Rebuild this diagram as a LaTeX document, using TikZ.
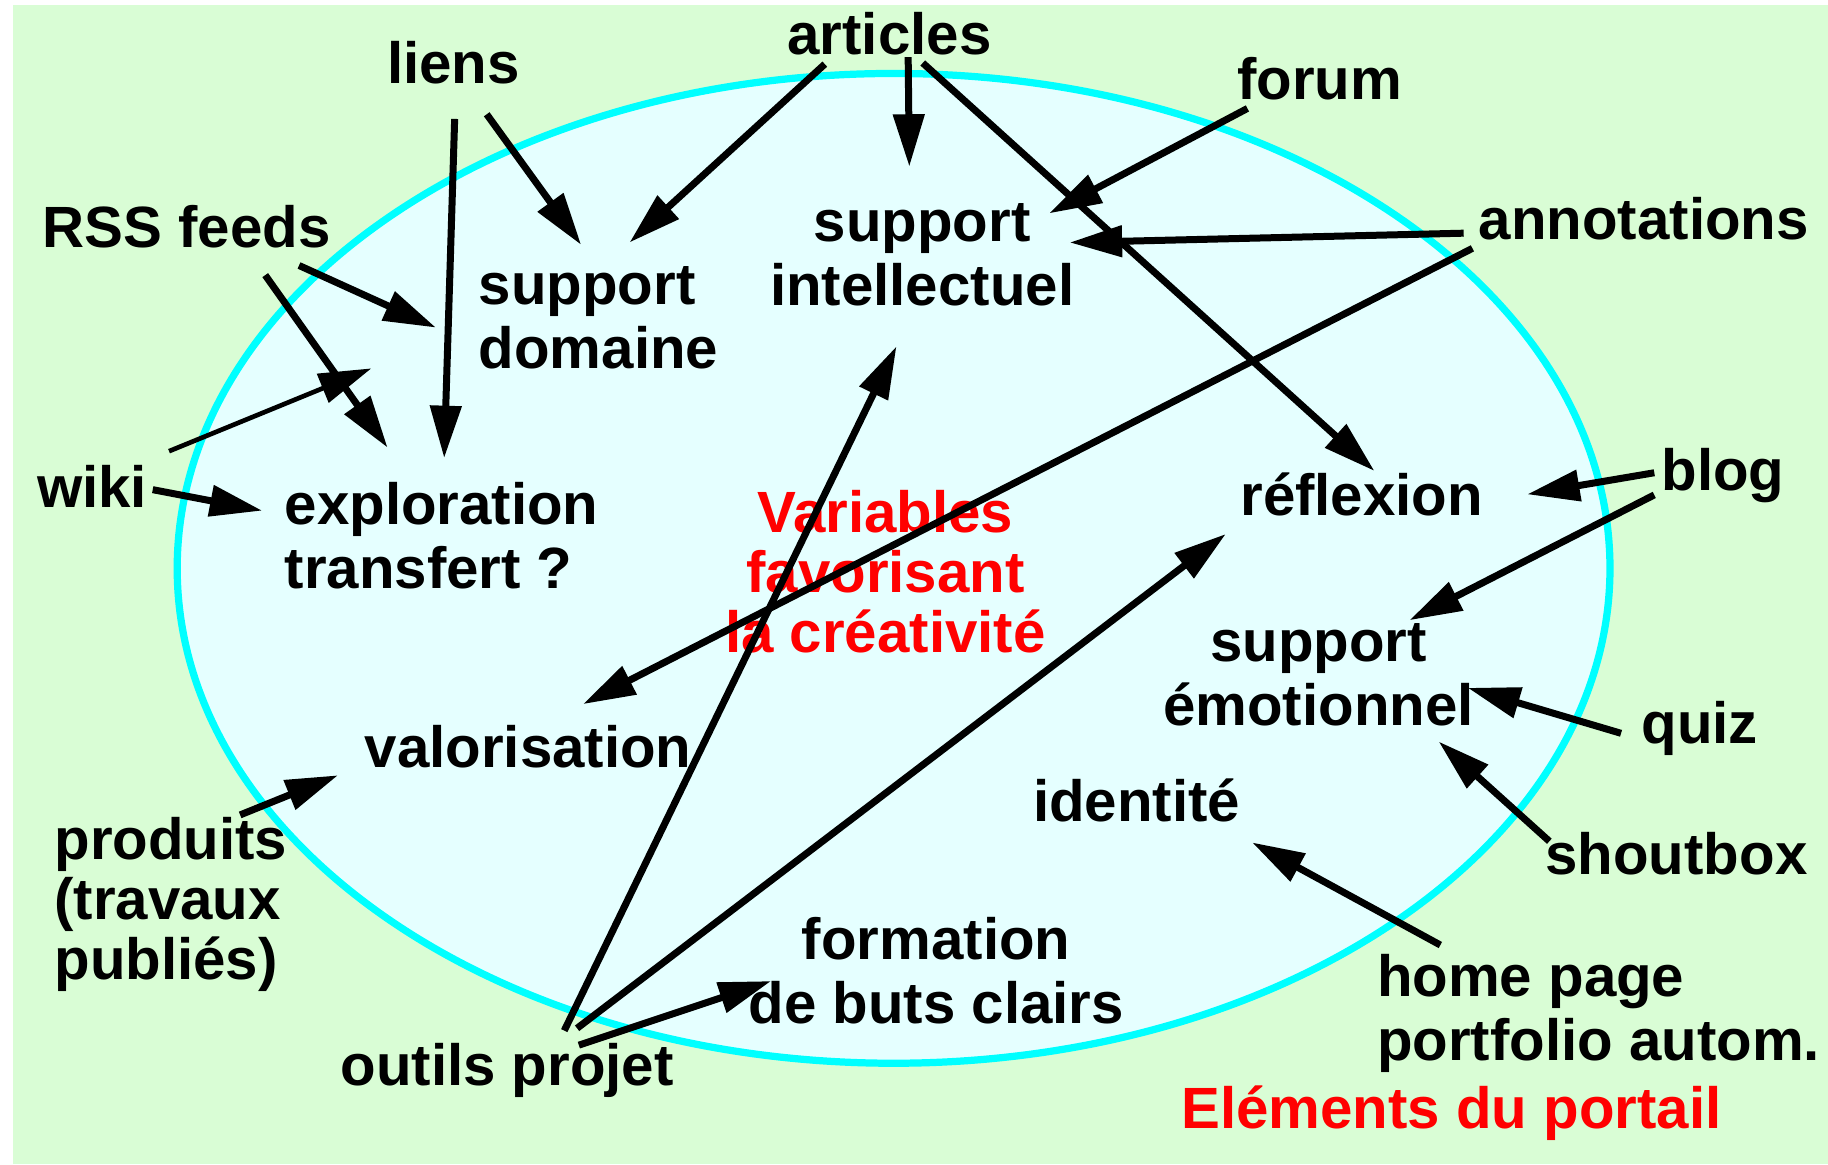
\documentclass[tikz,border=0pt]{standalone}
\usepackage{fontspec}
\setmainfont{Liberation Sans}
\usetikzlibrary{arrows.meta}
\definecolor{bggreen}{RGB}{217,253,213}
\definecolor{ellfill}{RGB}{229,255,255}
\definecolor{ellline}{RGB}{0,255,255}
\begin{document}
\begin{tikzpicture}[x=0.01cm,y=-0.01cm,
  lbl/.style={font=\fontsize{14.2pt}{15.65pt}\selectfont\bfseries, inner sep=0pt, anchor=base},
  lblw/.style={lbl, anchor=base west},
  redlbl/.style={lbl, text=red},
  arr/.style={line width=0.06cm, -{Triangle[length=0.45cm,width=0.26cm]}},
  thinarr/.style={line width=0.04cm, -{Triangle[length=0.45cm,width=0.26cm]}}]

\useasboundingbox (0,0) rectangle (1568,998.5);
\fill[white] (0,0) rectangle (1568,998.5);
\fill[bggreen] (11,4.5) rectangle (1568,998.5);
\draw[ellline, fill=ellfill, line width=0.062cm] (766.5,487.5) ellipse [x radius=614.5, y radius=424.5];

% labels
\node[lbl] (liens) at (389,72) {liens};
\node[lbl] (articles) at (763,47) {articles};
\node[lbl] (forum) at (1132,85) {forum};
\node[lblw] (rss) at (36,212) {RSS feeds};
\node[lblw] (supdom) at (410,261) {\begin{tabular}[t]{@{}l@{}}support\\domaine\end{tabular}};
\node[lbl] (supint) at (791,207) {\begin{tabular}[t]{@{}c@{}}support\\intellectuel\end{tabular}};
\node[lbl] (annot) at (1410,205) {annotations};
\node[lbl] (wiki) at (79,435) {wiki};
\node[lblw] (explo) at (243.5,450) {\begin{tabular}[t]{@{}l@{}}exploration\\transfert ?\end{tabular}};
\node[lbl] (reflex) at (1168,442) {réflexion};
\node[lbl] (blog) at (1478,421) {blog};
\node[redlbl] (vars) at (759.5,457) {\begin{tabular}[t]{@{}c@{}}Variables\\[-1.1pt]favorisant\\[-1.1pt]la créativité\end{tabular}};
\node[lbl] (supemo) at (1131,567) {\begin{tabular}[t]{@{}c@{}}support\\émotionnel\end{tabular}};
\node[lbl] (quiz) at (1458,638) {quiz};
\node[lbl] (valor) at (453,658) {valorisation};
\node[lbl] (ident) at (975,705) {identité};
\node[lbl] (shout) at (1438,750) {shoutbox};
\node[lblw] (prod) at (46,737.5) {\begin{tabular}[t]{@{}l@{}}produits\\[-1.1pt](travaux\\[-1.1pt]publiés)\end{tabular}};
\node[lbl] (form) at (803,823) {\begin{tabular}[t]{@{}c@{}}formation\\de buts clairs\end{tabular}};
\node[lblw] (home) at (1180.5,855) {\begin{tabular}[t]{@{}l@{}}home page\\portfolio autom.\end{tabular}};
\node[lbl] (outils) at (435,931) {outils projet};
\node[redlbl] (elem) at (1245,968) {Eléments du portail};

% connector end points
\coordinate (liens-a) at (390,102);     \coordinate (explo-a) at (381,393);
\coordinate (liens-b) at (417.5,98);    \coordinate (supdom-a) at (498.5,210);
\coordinate (articles-a) at (707.5,55); \coordinate (supdom-b) at (540,208);
\coordinate (articles-b) at (779,49);   \coordinate (supint-a) at (780,143);
\coordinate (articles-c) at (791.5,54); \coordinate (reflex-a) at (1179,404);
\coordinate (forum-a) at (1070,93);     \coordinate (supint-b) at (900,183);
\coordinate (annot-a) at (1255.5,200);  \coordinate (supint-c) at (917.5,208);
\coordinate (annot-b) at (1263,213);    \coordinate (valor-a) at (500,604);
\coordinate (blog-a) at (1419,405.5);   \coordinate (reflex-b) at (1310,424);
\coordinate (blog-b) at (1419,424.5);   \coordinate (supemo-a) at (1209,532);
\coordinate (quiz-a) at (1390.5,629);   \coordinate (supemo-b) at (1259,590);
\coordinate (shout-a) at (1329,721.6);  \coordinate (supemo-c) at (1234,636);
\coordinate (home-a) at (1235.5,810.6); \coordinate (ident-a) at (1074,722.6);
\coordinate (rss-a) at (256.5,227.7);   \coordinate (supdom-c) at (374,281);
\coordinate (rss-b) at (227.5,236);     \coordinate (explo-b) at (332.5,384);
\coordinate (wiki-a) at (145,387);      \coordinate (wiki-tip) at (318.5,316);
\coordinate (wiki-b) at (131,420);      \coordinate (explo-c) at (225,438);
\coordinate (prod-a) at (206,699);      \coordinate (valor-b) at (290,665);
\coordinate (outils-a) at (484,884);    \coordinate (supint-d) at (769,297);
\coordinate (outils-b) at (495,882);    \coordinate (reflex-c) at (1051.5,458);
\coordinate (outils-c) at (496.5,896.5);\coordinate (form-a) at (661.5,841.5);

% connectors
\draw[arr] (liens-a) -- (explo-a);
\draw[arr] (liens-b) -- (supdom-a);
\draw[arr] (articles-a) -- (supdom-b);
\draw[arr] (articles-b) -- (supint-a);
\draw[arr] (articles-c) -- (reflex-a);
\draw[arr] (forum-a) -- (supint-b);
\draw[arr] (annot-a) -- (supint-c);
\draw[arr] (annot-b) -- (valor-a);
\draw[arr] (blog-a) -- (reflex-b);
\draw[arr] (blog-b) -- (supemo-a);
\draw[arr] (quiz-a) -- (supemo-b);
\draw[arr] (shout-a) -- (supemo-c);
\draw[arr] (home-a) -- (ident-a);
\draw[arr] (rss-a) -- (supdom-c);
\draw[arr] (rss-b) -- (explo-b);
\draw[thinarr] (wiki-a) -- (wiki-tip);
\draw[arr] (wiki-b) -- (explo-c);
\draw[arr] (prod-a) -- (valor-b);
\draw[arr] (outils-a) -- (supint-d);
\draw[arr] (outils-b) -- (reflex-c);
\draw[arr] (outils-c) -- (form-a);
\end{tikzpicture}
\end{document}
